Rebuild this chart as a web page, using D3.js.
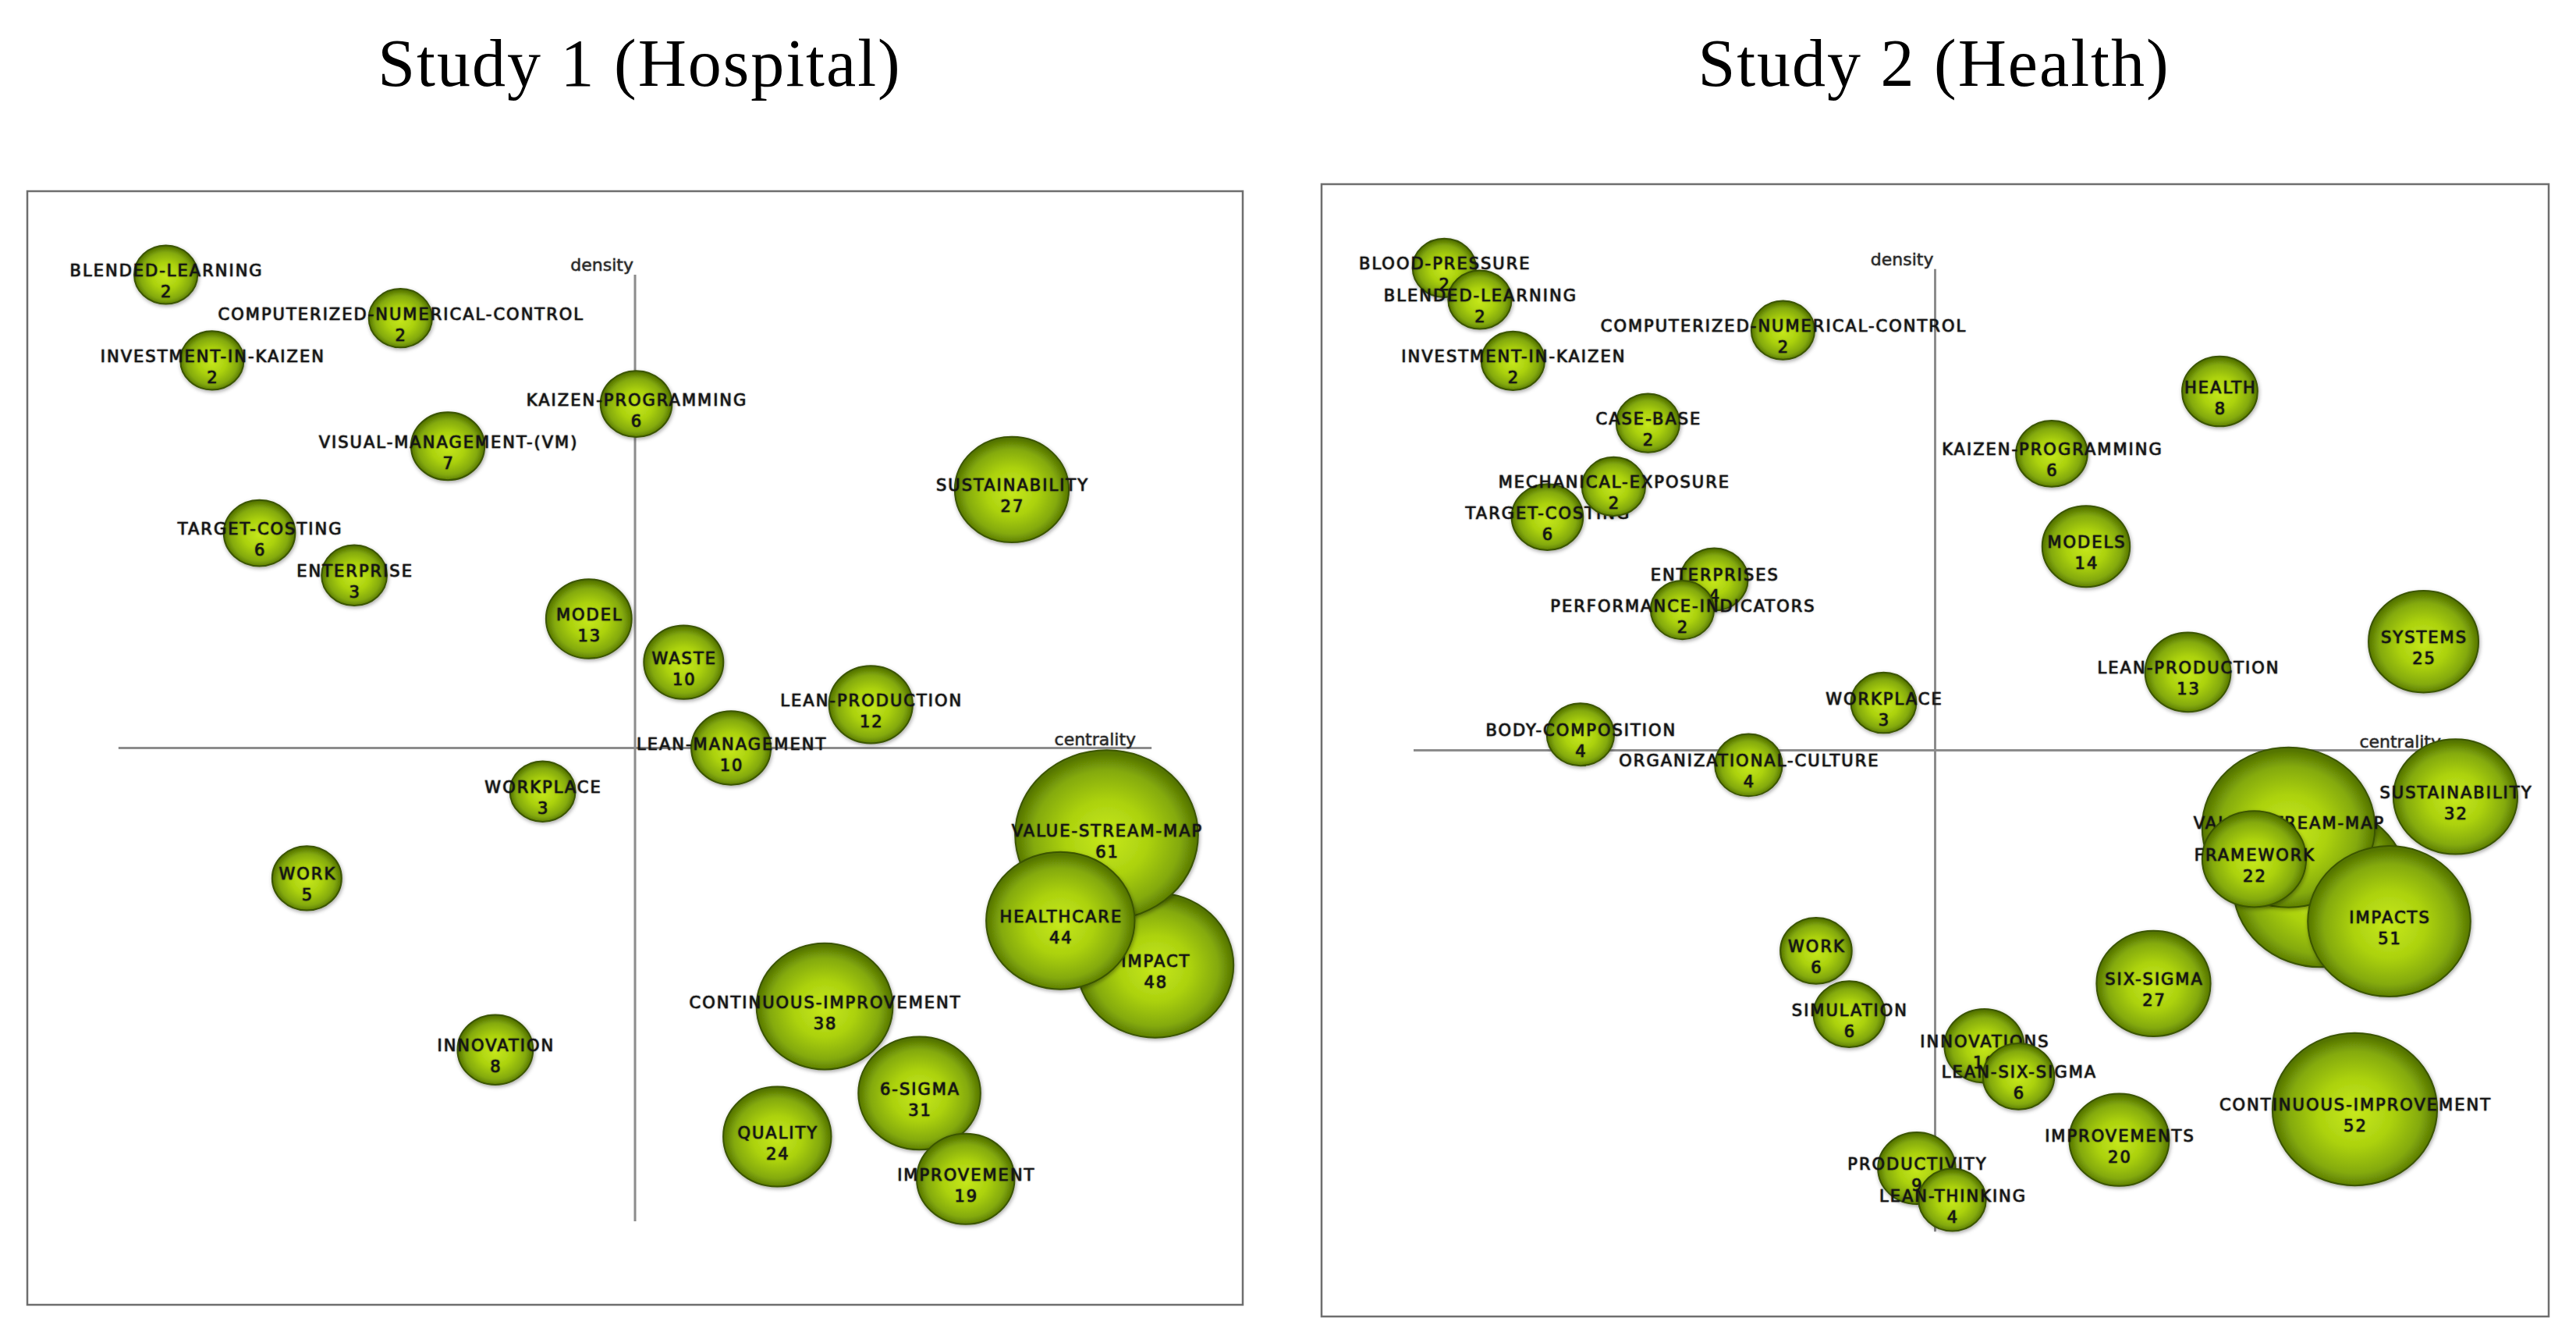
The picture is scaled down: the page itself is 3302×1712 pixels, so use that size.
<!DOCTYPE html>
<html>
<head>
<meta charset="utf-8">
<script src="https://cdn.jsdelivr.net/npm/d3@7"></script>
<style>
  html, body { margin: 0; padding: 0; background: #ffffff; }
  svg { display: block; }
  .lbl { font-family: "DejaVu Sans", Verdana, sans-serif; font-size: 21px; letter-spacing: 2px; fill: #161616;
         stroke: #1a1a1a; stroke-width: 0.6px; text-shadow: 0 0 2px rgba(0,0,0,0.4); }
  .axislbl { font-family: "DejaVu Sans", Verdana, sans-serif; font-size: 22px; fill: #2a2a2a;
             stroke: #2a2a2a; stroke-width: 0.3px; text-shadow: 0 0 2px rgba(0,0,0,0.3); }
  .title { font-family: "Liberation Serif", "Times New Roman", serif; font-size: 86px; letter-spacing: 2px; fill: #000; }
</style>
</head>
<body>
<script>
// ---------------- DATA ----------------
const titles = ["Study 1 (Hospital)", "Study 2 (Health)"];
const xAxisLabel = "centrality";
const yAxisLabel = "density";

// Study 1 (Hospital) — listed in drawing order
const study1Themes = ["BLENDED-LEARNING", "COMPUTERIZED-NUMERICAL-CONTROL", "INVESTMENT-IN-KAIZEN", "KAIZEN-PROGRAMMING",
  "VISUAL-MANAGEMENT-(VM)", "TARGET-COSTING", "ENTERPRISE", "SUSTAINABILITY", "MODEL", "WASTE", "LEAN-PRODUCTION",
  "LEAN-MANAGEMENT", "WORKPLACE", "WORK", "INNOVATION", "IMPACT", "VALUE-STREAM-MAP", "HEALTHCARE",
  "CONTINUOUS-IMPROVEMENT", "QUALITY", "6-SIGMA", "IMPROVEMENT"];
const study1Docs = [2, 2, 2, 6, 7, 6, 3, 27, 13, 10, 12, 10, 3, 5, 8, 48, 61, 44, 38, 24, 31, 19];
const study1Centrality = [11.4, 30.7, 15.2, 50.1, 34.6, 19.1, 26.9, 81.0, 46.2, 54.0, 69.4, 57.9, 42.4, 23.0, 38.5,
  92.8, 88.8, 85.0, 65.6, 61.7, 73.4, 77.2];
const study1Density = [92.5, 88.6, 84.8, 80.9, 77.1, 69.3, 65.5, 73.2, 61.6, 57.7, 53.9, 50.0, 46.1, 38.3, 22.9,
  30.5, 42.2, 34.5, 26.8, 15.1, 19.0, 11.3];

// Study 2 (Health) — listed in drawing order ("" = theme whose label is hidden in the source)
const study2Themes = ["BLOOD-PRESSURE", "BLENDED-LEARNING", "INVESTMENT-IN-KAIZEN", "COMPUTERIZED-NUMERICAL-CONTROL",
  "CASE-BASE", "TARGET-COSTING", "MECHANICAL-EXPOSURE", "ENTERPRISES", "PERFORMANCE-INDICATORS", "HEALTH",
  "KAIZEN-PROGRAMMING", "MODELS", "WORKPLACE", "BODY-COMPOSITION", "ORGANIZATIONAL-CULTURE", "LEAN-PRODUCTION",
  "SYSTEMS", "SUSTAINABILITY", "", "VALUE-STREAM-MAP", "FRAMEWORK", "IMPACTS", "SIX-SIGMA", "WORK", "SIMULATION",
  "INNOVATIONS", "LEAN-SIX-SIGMA", "PRODUCTIVITY", "LEAN-THINKING", "IMPROVEMENTS", "CONTINUOUS-IMPROVEMENT"];
const study2Docs = [2, 2, 2, 2, 2, 6, 2, 4, 2, 8, 6, 14, 3, 4, 4, 13, 25, 32, 57, 56, 22, 51, 27, 6, 6, 10, 6, 9, 4, 20, 52];
const study2Centrality = [10.0, 12.9, 15.6, 37.6, 26.6, 18.4, 23.8, 32.0, 29.4, 73.2, 59.5, 62.3, 45.8, 21.1, 34.8,
  70.6, 89.8, 92.4, 81.4, 78.8, 76.0, 87.0, 67.8, 40.3, 43.0, 54.0, 56.8, 48.5, 51.4, 65.0, 84.2];
const study2Density = [92.6, 89.8, 84.4, 87.1, 78.9, 70.6, 73.3, 65.1, 62.4, 81.7, 76.2, 68.0, 54.2, 51.4, 48.7,
  56.9, 59.6, 45.9, 38.0, 43.2, 40.4, 34.9, 29.4, 32.3, 26.7, 23.9, 21.2, 13.1, 10.3, 15.6, 18.3];

// ---------------- LAYOUT ----------------
const W = 3302, H = 1712;
const panels = [
  { title: titles[0], titleX: 820, frame: { x0: 35, y0: 245, x1: 1593, y1: 1672 },
    themes: study1Themes, docs: study1Docs, cx: study1Centrality, dy: study1Density },
  { title: titles[1], titleX: 2479, frame: { x0: 1694, y0: 236, x1: 3267, y1: 1687 },
    themes: study2Themes, docs: study2Docs, cx: study2Centrality, dy: study2Density }
];
const axisMin = 7.5, axisMid = 50, axisMax = 92.5;

const svg = d3.select("body").append("svg").attr("width", W).attr("height", H);
svg.append("rect").attr("width", W).attr("height", H).attr("fill", "#fff");

const defs = svg.append("defs");
const grad = defs.append("radialGradient").attr("id", "bub").attr("cx", "50%").attr("cy", "52%").attr("r", "50%");
grad.append("stop").attr("offset", "0%").attr("stop-color", "#c6e81c");
grad.append("stop").attr("offset", "45%").attr("stop-color", "#acd20f");
grad.append("stop").attr("offset", "80%").attr("stop-color", "#84aa08");
grad.append("stop").attr("offset", "100%").attr("stop-color", "#557505");
const sh = defs.append("filter").attr("id", "shadow").attr("x", "-20%").attr("y", "-20%").attr("width", "140%").attr("height", "140%");
sh.append("feDropShadow").attr("dx", 1).attr("dy", 2).attr("stdDeviation", 2.5)
  .attr("flood-color", "#000").attr("flood-opacity", 0.35);

// bubble size (horizontal semi-axis) from number of documents
const rScale = d3.scaleLinear().domain([0, 61]).range([38, 117.3]);
const aspect = 0.925;

panels.forEach(p => {
  const f = p.frame;
  const x = d3.scaleLinear().domain([0, 100]).range([f.x0, f.x1]);
  const y = d3.scaleLinear().domain([0, 100]).range([f.y1, f.y0]);

  svg.append("text").attr("class", "title").attr("x", p.titleX).attr("y", 110)
    .attr("text-anchor", "middle").text(p.title);

  svg.append("rect").attr("x", f.x0).attr("y", f.y0).attr("width", f.x1 - f.x0).attr("height", f.y1 - f.y0)
    .attr("fill", "none").attr("stroke", "#6e6e6e").attr("stroke-width", 2.5);

  const g = svg.append("g");
  // quadrant axes
  g.append("line").attr("x1", x(axisMid)).attr("x2", x(axisMid)).attr("y1", y(axisMax)).attr("y2", y(axisMin))
    .attr("stroke", "#8c8c8c").attr("stroke-width", 3);
  g.append("line").attr("x1", x(axisMin)).attr("x2", x(axisMax)).attr("y1", y(axisMid)).attr("y2", y(axisMid))
    .attr("stroke", "#8c8c8c").attr("stroke-width", 3);
  g.append("text").attr("class", "axislbl").attr("x", x(axisMid) - 2).attr("y", y(axisMax) - 5)
    .attr("text-anchor", "end").text(yAxisLabel);
  g.append("text").attr("class", "axislbl").attr("x", x(axisMax) - 20).attr("y", y(axisMid) - 4)
    .attr("text-anchor", "end").text(xAxisLabel);

  const data = p.themes.map((t, i) => ({ name: t, v: p.docs[i], c: p.cx[i], d: p.dy[i] }));
  const nodes = g.selectAll("g.node").data(data).join("g").attr("class", "node")
    .attr("transform", d => `translate(${x(d.c)},${y(d.d)})`);
  nodes.append("ellipse")
    .attr("rx", d => rScale(d.v)).attr("ry", d => rScale(d.v) * aspect)
    .attr("fill", "url(#bub)").attr("stroke", "#3a5402").attr("stroke-width", 2)
    .attr("filter", "url(#shadow)");
  nodes.filter(d => d.name !== "").append("text").attr("class", "lbl")
    .attr("x", 1).attr("y", 2).attr("text-anchor", "middle").text(d => d.name);
  nodes.filter(d => d.name !== "").append("text").attr("class", "lbl")
    .attr("x", 1).attr("y", 29).attr("text-anchor", "middle").text(d => d.v);
});
</script>
</body>
</html>
